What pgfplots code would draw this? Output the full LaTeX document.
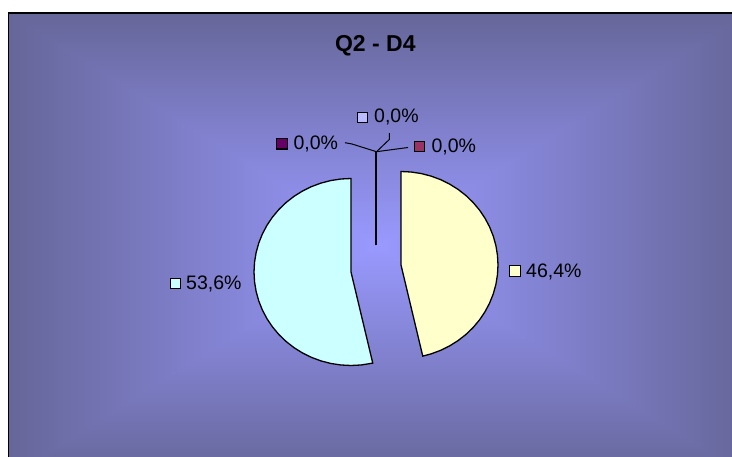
\documentclass[border=0pt]{standalone}
\usepackage{pgfplots}
\pgfplotsset{compat=1.18}
\usepackage{fontspec}
\setmainfont{Liberation Sans}
\definecolor{bgedge}{HTML}{666699}
\definecolor{bgcenter}{HTML}{9999FF}
\definecolor{sliceyellow}{HTML}{FFFFCC}
\definecolor{slicecyan}{HTML}{CCFFFF}
\definecolor{sliceone}{RGB}{187,187,255}
\definecolor{slicetwo}{HTML}{993366}
\definecolor{slicefive}{HTML}{660066}
\begin{document}
\begin{tikzpicture}
\begin{axis}[at={(0,0)}, anchor=south west, scale only axis, width=732bp, height=457bp,
  xmin=0, xmax=732, ymin=0, ymax=457, y dir=reverse, hide axis, clip=false]
  \fill[white] (axis cs:0,0) rectangle (axis cs:732,457);
  % rectangular gradient (from centre)
  \shade[left color=bgedge, right color=bgcenter] (axis cs:8.5,13) rectangle (axis cs:378,477);
  \shade[left color=bgcenter, right color=bgedge] (axis cs:378,13) rectangle (axis cs:748,477);
  \shade[top color=bgedge, bottom color=bgcenter] (axis cs:8.5,13) -- (axis cs:748,13) -- (axis cs:378,245) -- cycle;
  \shade[top color=bgcenter, bottom color=bgedge] (axis cs:8.5,477) -- (axis cs:748,477) -- (axis cs:378,245) -- cycle;
  \draw[black, line width=1.5bp] (axis cs:8.5,477) -- (axis cs:8.5,13) -- (axis cs:748,13);
  % title
  \node[anchor=base, inner sep=0pt, font=\bfseries\fontsize{23bp}{25bp}\selectfont] at (axis cs:375.3,51.7) {Q2 - D4};
  % leader lines
  \draw[black, line width=1bp] (axis cs:345,142.7) -- (axis cs:352,144) -- (axis cs:376.5,151.7);
  \draw[black, line width=1bp] (axis cs:389.3,133) -- (axis cs:389.3,139.5) -- (axis cs:376.5,151.7);
  \draw[black, line width=1bp] (axis cs:408,147.5) -- (axis cs:376.5,151.7);
  % label keys
  \node[draw=black, line width=1.2bp, fill=sliceone, minimum size=10.3bp, inner sep=0pt] at (axis cs:362.5,117.5) {};
  \node[draw=black, line width=1.2bp, fill=slicefive, minimum size=10.3bp, inner sep=0pt] at (axis cs:282,143.8) {};
  \node[draw=black, line width=1.2bp, fill=slicetwo, minimum size=10.3bp, inner sep=0pt] at (axis cs:419.5,146.7) {};
  \node[draw=black, line width=1.2bp, fill=slicecyan, minimum size=10.3bp, inner sep=0pt] at (axis cs:175.3,283.3) {};
  \node[draw=black, line width=1.2bp, fill=sliceyellow, minimum size=10.3bp, inner sep=0pt] at (axis cs:515,271) {};
  % label texts
  \tikzset{lbl/.style={anchor=base west, inner sep=0pt, font=\fontsize{19.5bp}{21bp}\selectfont}}
  \node[lbl] at (axis cs:374,122.5) {0,0\%};
  \node[lbl] at (axis cs:293.3,149.5) {0,0\%};
  \node[lbl] at (axis cs:431.3,152.5) {0,0\%};
  \node[lbl] at (axis cs:186,289) {53,6\%};
  \node[lbl] at (axis cs:526,277) {46,4\%};
  \coordinate (BL) at (axis cs:0,457);
  \coordinate (TR) at (axis cs:732,0);
  \coordinate (O) at (axis cs:376,268.5);
\end{axis}
\begin{axis}[at={(O)}, anchor=center, x=97bp, y=93.5bp,
  xmin=-1.6, xmax=1.6, ymin=-1.6, ymax=1.6, hide axis, clip=false]
  % 46,4 %  (exploded)
  \addplot[draw=black, line width=1.3bp, fill=sliceyellow, shift={(25bp,3.5bp)}, data cs=polar] coordinates {
    (0,0) (90,1) (84,1) (78,1) (72,1) (66,1) (60,1) (54,1) (48,1) (42,1) (36,1) (30,1)
    (24,1) (18,1) (12,1) (6,1) (0,1) (-6,1) (-12,1) (-18,1) (-24,1) (-30,1) (-36,1)
    (-42,1) (-48,1) (-54,1) (-60,1) (-66,1) (-72,1) (-77.04,1)
  } -- cycle;
  % 53,6 %  (exploded)
  \addplot[draw=black, line width=1.3bp, fill=slicecyan, shift={(-25bp,-3.5bp)}, data cs=polar] coordinates {
    (0,0) (-77.04,1) (-84,1) (-90,1) (-96,1) (-102,1) (-108,1) (-114,1) (-120,1) (-126,1)
    (-132,1) (-138,1) (-144,1) (-150,1) (-156,1) (-162,1) (-168,1) (-174,1) (-180,1)
    (-186,1) (-192,1) (-198,1) (-204,1) (-210,1) (-216,1) (-222,1) (-228,1) (-234,1)
    (-240,1) (-246,1) (-252,1) (-258,1) (-264,1) (-270,1)
  } -- cycle;
  % three 0,0 % slices (exploded upward)
  \addplot[draw=black, line width=2.5bp, shift={(0bp,23bp)}, data cs=polar] coordinates {(90,0) (90,1)};
\end{axis}
\pgfresetboundingbox
\useasboundingbox (BL) rectangle (TR);
\end{tikzpicture}
\end{document}
